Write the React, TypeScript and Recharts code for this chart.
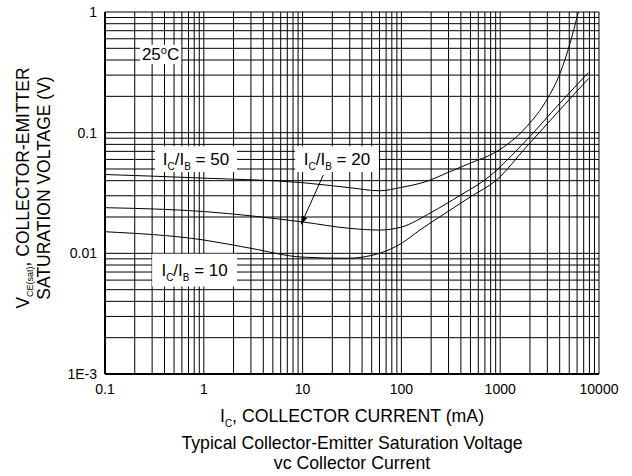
import {
  CartesianGrid,
  Label,
  Line,
  LineChart,
  ReferenceArea,
  ReferenceLine,
  XAxis,
  YAxis,
} from "recharts";

const FONT = "'Liberation Sans', Arial, Helvetica, sans-serif";

const xDecades = [0.1, 1, 10, 100, 1000, 10000];
const xTickLabels = ["0.1", "1", "10", "100", "1000", "10000"];
const yDecades = [0.001, 0.01, 0.1, 1];
const yTickLabels = ["1E-3", "0.01", "0.1", "1"];
const minorSteps = [1, 2, 3, 4, 5, 6, 7, 8, 9];

// IC/IB = 50
const ic50 = [0.1, 1, 10, 30, 60, 100, 180, 300, 500, 900, 1850, 2960, 4030, 5090, 6180];
const vce50 = [0.045, 0.042, 0.0385, 0.035, 0.033, 0.0352, 0.0395, 0.047, 0.056, 0.069, 0.112, 0.187, 0.31, 0.55, 1.0];

// IC/IB = 20
const ic20 = [0.1, 1, 10, 30, 60, 100, 200, 400, 700, 1850, 4000, 7800];
const vce20 = [0.0239, 0.0222, 0.0182, 0.0161, 0.0156, 0.0165, 0.0218, 0.0305, 0.0406, 0.087, 0.175, 0.314];

// IC/IB = 10
const ic10 = [0.1, 1, 3, 10, 28, 60, 100, 154, 245, 500, 920, 1850, 4000, 7800];
const vce10 = [0.0151, 0.0129, 0.011, 0.0093, 0.0091, 0.01, 0.0121, 0.0156, 0.0201, 0.0294, 0.0406, 0.0766, 0.154, 0.28];

// annotation boxes (data units) and the pointer arrow
const box25 = { i: [0.226, 0.59], v: [0.37, 0.535] };
const box50 = { i: [0.32, 2.17], v: [0.0472, 0.077] };
const box20 = { i: [8.4, 59], v: [0.0472, 0.077] };
const box10 = { i: [0.3, 2.17], v: [0.0053, 0.0099] };
const arrowI = [16.2, 9.6];
const arrowV = [0.0446, 0.0172];

const toPoints = (xs: number[], ys: number[]) => xs.map((x, k) => ({ ic: x, vce: ys[k] }));
const curve50 = toPoints(ic50, vce50);
const curve20 = toPoints(ic20, vce20);
const curve10 = toPoints(ic10, vce10);

const gridOf = (decades: number[]) =>
  decades.slice(0, -1).flatMap((d) => minorSteps.map((m) => d * m)).concat(decades[decades.length - 1]);
const xTicks = gridOf(xDecades);
const yTicks = gridOf(yDecades);

const labelFor = (decades: number[], labels: string[]) => (v: number) => {
  const k = decades.findIndex((d) => Math.abs(v / d - 1) < 1e-6);
  return k >= 0 ? labels[k] : "";
};

const RatioText = ({ viewBox, ratio }: any) => {
  const { x, y, width, height } = viewBox;
  return (
    <text x={x + width / 2} y={y + height / 2 + 6} textAnchor="middle" fontFamily={FONT} fontSize={17} fill="#000">
      <tspan>I</tspan>
      <tspan fontSize={10} dy={5}>C</tspan>
      <tspan dy={-5}>/I</tspan>
      <tspan fontSize={10} dy={5}>B</tspan>
      <tspan dy={-5}>{` = ${ratio}`}</tspan>
    </text>
  );
};

const TempText = ({ viewBox }: any) => {
  const { x, y, width, height } = viewBox;
  return (
    <text x={x + width / 2} y={y + height / 2 + 6} textAnchor="middle" fontFamily={FONT} fontSize={17} fill="#000">
      <tspan>25</tspan>
      <tspan fontSize={11} dy={-6}>o</tspan>
      <tspan dy={6}>C</tspan>
    </text>
  );
};

const Arrow = (props: any) => {
  const { x1, y1, x2, y2 } = props;
  const ang = Math.atan2(y2 - y1, x2 - x1);
  const len = 9;
  const half = 3;
  const bx = x2 - len * Math.cos(ang);
  const by = y2 - len * Math.sin(ang);
  const px = -Math.sin(ang) * half;
  const py = Math.cos(ang) * half;
  return (
    <g>
      <line x1={x1} y1={y1} x2={bx} y2={by} stroke="#000" strokeWidth={1} />
      <polygon points={`${x2},${y2} ${bx + px},${by + py} ${bx - px},${by - py}`} fill="#000" />
    </g>
  );
};

const YTitle = ({ viewBox }: any) => {
  const { x, y, height } = viewBox;
  const c = y + height / 2 - 5;
  const x1 = x + 29;
  const x2 = x + 50;
  return (
    <g fontFamily={FONT} fontSize={17.5} fill="#000">
      <text x={x1} y={c} textAnchor="middle" transform={`rotate(-90 ${x1} ${c})`}>
        <tspan>V</tspan>
        <tspan fontSize={9} dy={4}>CE(sat)</tspan>
        <tspan dy={-4}>, COLLECTOR-EMITTER</tspan>
      </text>
      <text x={x2} y={c} textAnchor="middle" transform={`rotate(-90 ${x2} ${c})`}>
        SATURATION VOLTAGE (V)
      </text>
    </g>
  );
};

const XTitle = ({ viewBox }: any) => {
  const { x, y, width } = viewBox;
  const cx = x + width / 2;
  return (
    <g fontFamily={FONT} fontSize={17.7} fill="#000">
      <text x={cx} y={y + 48} textAnchor="middle">
        <tspan>I</tspan>
        <tspan fontSize={10} dy={5}>C</tspan>
        <tspan dy={-5}>, COLLECTOR CURRENT (mA)</tspan>
      </text>
      <text x={cx} y={y + 75} textAnchor="middle">
        Typical Collector-Emitter Saturation Voltage
      </text>
      <text x={cx} y={y + 95} textAnchor="middle">
        vc Collector Current
      </text>
    </g>
  );
};

const tickStyle = { fontSize: 14, fill: "#000", fontFamily: FONT };

const App = () => {
  return (
    <div style={{ position: "absolute", left: 0, top: 0, background: "#fff" }}>
      <LineChart width={632} height={476} margin={{ top: 12, right: 33, bottom: 0, left: 0 }}>
        <CartesianGrid stroke="#000" strokeWidth={1} />
        <XAxis
          dataKey="ic"
          type="number"
          scale="log"
          domain={[0.1, 10000]}
          allowDataOverflow
          ticks={xTicks}
          interval={0}
          tickFormatter={labelFor(xDecades, xTickLabels)}
          tick={tickStyle}
          tickLine={false}
          tickSize={0}
          tickMargin={10}
          axisLine={{ stroke: "#000", strokeWidth: 2 }}
          height={102}
        >
          <Label content={(p: any) => <XTitle viewBox={p.viewBox} />} />
        </XAxis>
        <YAxis
          dataKey="vce"
          type="number"
          scale="log"
          domain={[0.001, 1]}
          allowDataOverflow
          ticks={yTicks}
          interval={0}
          tickFormatter={labelFor(yDecades, yTickLabels)}
          tick={tickStyle}
          tickLine={false}
          tickSize={0}
          tickMargin={8}
          axisLine={{ stroke: "#000", strokeWidth: 2 }}
          width={105}
        >
          <Label content={(p: any) => <YTitle viewBox={p.viewBox} />} />
        </YAxis>
        <ReferenceArea x1={box25.i[0]} x2={box25.i[1]} y1={box25.v[0]} y2={box25.v[1]} fill="#fff" fillOpacity={1} stroke="none">
          <Label content={(p: any) => <TempText viewBox={p.viewBox} />} />
        </ReferenceArea>
        <ReferenceArea x1={box50.i[0]} x2={box50.i[1]} y1={box50.v[0]} y2={box50.v[1]} fill="#fff" fillOpacity={1} stroke="none">
          <Label content={(p: any) => <RatioText viewBox={p.viewBox} ratio="50" />} />
        </ReferenceArea>
        <ReferenceArea x1={box20.i[0]} x2={box20.i[1]} y1={box20.v[0]} y2={box20.v[1]} fill="#fff" fillOpacity={1} stroke="none">
          <Label content={(p: any) => <RatioText viewBox={p.viewBox} ratio="20" />} />
        </ReferenceArea>
        <ReferenceArea x1={box10.i[0]} x2={box10.i[1]} y1={box10.v[0]} y2={box10.v[1]} fill="#fff" fillOpacity={1} stroke="none">
          <Label content={(p: any) => <RatioText viewBox={p.viewBox} ratio="10" />} />
        </ReferenceArea>
        <Line data={curve50} dataKey="vce" type="monotone" stroke="#000" strokeWidth={1} dot={false} isAnimationActive={false} />
        <Line data={curve20} dataKey="vce" type="monotone" stroke="#000" strokeWidth={1} dot={false} isAnimationActive={false} />
        <Line data={curve10} dataKey="vce" type="monotone" stroke="#000" strokeWidth={1} dot={false} isAnimationActive={false} />
        <ReferenceLine
          segment={[
            { x: arrowI[0], y: arrowV[0] },
            { x: arrowI[1], y: arrowV[1] },
          ]}
          shape={Arrow}
        />
      </LineChart>
    </div>
  );
};

export default App;
